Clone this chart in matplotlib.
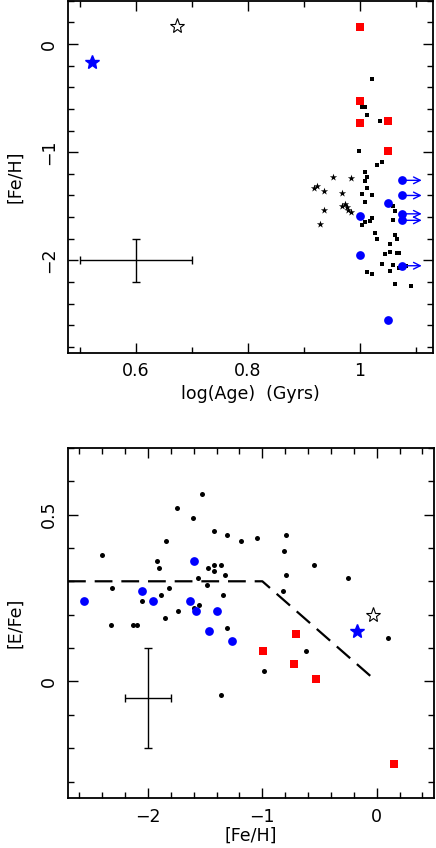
# Age / metallicity and [E/Fe] vs [Fe/H] panels
import matplotlib
matplotlib.use('Agg')
import matplotlib.pyplot as plt
import numpy as np
from matplotlib.ticker import MultipleLocator, FormatStrFormatter

# ---- top panel: log(Age) vs [Fe/H] ----
sq_age = [1.022, 1.003, 1.008, 1.0125, 0.998, 1.036, 0.998, 1.040, 1.031,
          1.008, 1.0125, 1.008, 1.0125, 1.003, 1.022, 1.008, 1.058, 1.062,
          1.058, 1.022, 1.017, 1.008, 1.003, 1.027, 1.031, 1.062, 1.066,
          1.053, 1.053, 1.044, 1.066, 1.070, 1.040, 1.058, 1.070, 1.082,
          1.053, 1.0125, 1.022, 1.062, 1.090]
sq_feh = [-0.32, -0.58, -0.58, -0.66, -0.72, -0.71, -0.99, -1.09, -1.12,
          -1.18, -1.23, -1.27, -1.33, -1.39, -1.40, -1.46, -1.50, -1.54,
          -1.63, -1.61, -1.64, -1.65, -1.67, -1.75, -1.80, -1.77, -1.80,
          -1.85, -1.92, -1.94, -1.93, -1.93, -2.03, -2.04, -2.07, -2.05,
          -2.10, -2.11, -2.13, -2.22, -2.24]

star_age = [0.951, 0.983, 0.917, 0.923, 0.935, 0.967, 0.967, 0.973, 0.976,
            0.979, 0.983, 0.935, 0.929]
star_feh = [-1.23, -1.24, -1.33, -1.31, -1.36, -1.38, -1.50, -1.48, -1.51,
            -1.53, -1.55, -1.53, -1.66]

red_age = [1.0, 1.0, 1.0, 1.05, 1.05]
red_feh = [0.157, -0.53, -0.73, -0.71, -0.985]

blue_age = [1.075, 1.075, 1.049, 1.0, 1.075, 1.075, 1.0, 1.075, 1.049]
blue_feh = [-1.26, -1.40, -1.47, -1.59, -1.57, -1.63, -1.95, -2.05, -2.55]
blue_lower = [True, True, False, False, True, True, False, True, False]

bstar_age, bstar_feh = 0.522, -0.17
ostar_age, ostar_feh = 0.673, 0.17

# ---- bottom panel: [Fe/H] vs [E/Fe] ----
dot_feh = [-2.407, -2.316, -2.325, -2.135, -2.094, -2.056, -1.925, -1.907,
           -1.883, -1.846, -1.854, -1.816, -1.746, -1.734, -1.605, -1.532,
           -1.565, -1.594, -1.553, -1.482, -1.474, -1.425, -1.425, -1.425,
           -1.363, -1.325, -1.342, -1.313, -1.184, -1.044, -1.313, -1.363,
           -0.982, -0.614, 0.096, -0.793, -0.813, -0.55, -0.793, -0.252,
           -0.822]
dot_efe = [0.38, 0.28, 0.17, 0.17, 0.17, 0.24, 0.36, 0.34, 0.26, 0.42, 0.19,
           0.28, 0.52, 0.21, 0.49, 0.56, 0.31, 0.22, 0.23, 0.29, 0.34, 0.45,
           0.35, 0.33, 0.35, 0.32, 0.26, 0.44, 0.42, 0.43, 0.16, -0.04, 0.03,
           0.09, 0.13, 0.44, 0.39, 0.35, 0.32, 0.31, 0.27]

red_feh2 = [0.155, -0.71, -0.99, -0.725, -0.53]
red_efe = [-0.248, 0.142, 0.09, 0.053, 0.006]

blue_feh2 = [-2.556, -2.056, -1.954, -1.594, -1.632, -1.579, -1.40, -1.468, -1.263]
blue_efe = [0.24, 0.27, 0.24, 0.36, 0.24, 0.21, 0.21, 0.15, 0.12]

bstar_feh2, bstar_efe = -0.17, 0.15
ostar_feh2, ostar_efe = -0.03, 0.20

trend_feh = [-2.7, -1.0, -0.04]
trend_efe = [0.30, 0.30, 0.012]

plt.rcParams['font.family'] = 'DejaVu Sans'
plt.rcParams['font.size'] = 12.5

fig = plt.figure(figsize=(4.36, 8.48), dpi=100)
ax1 = fig.add_axes([0.156, 0.584, 0.837, 0.415])
ax2 = fig.add_axes([0.156, 0.0586, 0.839, 0.4134])


def style_axes(ax):
    for sp in ax.spines.values():
        sp.set_linewidth(1.3)
    ax.tick_params(which='both', direction='in', top=True, right=True, width=1.0)
    ax.tick_params(which='major', length=7, pad=7)
    ax.tick_params(which='minor', length=4)


# top panel
ax1.scatter(sq_age, sq_feh, marker='s', s=3.4 ** 2, c='black', linewidths=0)
ax1.scatter(star_age, star_feh, marker='*', s=5.5 ** 2, c='black', linewidths=0)
ax1.scatter(red_age, red_feh, marker='s', s=6 ** 2, c='red', linewidths=0)
ax1.scatter(blue_age, blue_feh, marker='o', s=6.3 ** 2, c='blue', linewidths=0)
for a, f, lim in zip(blue_age, blue_feh, blue_lower):
    if lim:
        ax1.annotate('', xy=(a + 0.035, f), xytext=(a, f),
                     arrowprops=dict(arrowstyle='->', color='blue', lw=1.0,
                                     shrinkA=0, shrinkB=0, mutation_scale=12))
ax1.plot([bstar_age], [bstar_feh], marker='*', ms=10, color='blue', ls='none')
ax1.plot([ostar_age], [ostar_feh], marker='*', ms=11, mfc='white', mec='black',
         mew=0.8, ls='none')
ax1.errorbar([0.6], [-2.0], xerr=0.1, yerr=0.2, color='black', lw=1.0,
             capsize=3, capthick=1.0)

ax1.set_xlim(0.479, 1.13)
ax1.set_ylim(-2.855, 0.4)
ax1.xaxis.set_major_locator(MultipleLocator(0.2))
ax1.xaxis.set_minor_locator(MultipleLocator(0.1))
ax1.yaxis.set_major_locator(MultipleLocator(1))
ax1.yaxis.set_minor_locator(MultipleLocator(0.2))
ax1.xaxis.set_major_formatter(FormatStrFormatter('%g'))
ax1.set_xlabel('log(Age)  (Gyrs)')
ax1.set_ylabel('[Fe/H]')
ax1.xaxis.set_label_coords(0.5, -0.092)
ax1.yaxis.set_label_coords(-0.12, 0.5)
style_axes(ax1)
ax1.set_yticks([-2, -1, 0])
ax1.set_yticklabels(['\u22122', '\u22121', '0'], rotation=90, va='center')

# bottom panel
ax2.scatter(dot_feh, dot_efe, marker='o', s=3.6 ** 2, c='black', linewidths=0)
ax2.scatter(red_feh2, red_efe, marker='s', s=6 ** 2, c='red', linewidths=0)
ax2.scatter(blue_feh2, blue_efe, marker='o', s=6.3 ** 2, c='blue', linewidths=0)
ax2.plot([bstar_feh2], [bstar_efe], marker='*', ms=10, color='blue', ls='none')
ax2.plot([ostar_feh2], [ostar_efe], marker='*', ms=11, mfc='white', mec='black',
         mew=0.8, ls='none')
ax2.plot(trend_feh, trend_efe, color='black', lw=1.6, dashes=(8, 4))
ax2.errorbar([-2.0], [-0.05], xerr=0.2, yerr=0.15, color='black', lw=1.0,
             capsize=3, capthick=1.0)

ax2.set_xlim(-2.7, 0.5)
ax2.set_ylim(-0.35, 0.7)
ax2.xaxis.set_major_locator(MultipleLocator(1))
ax2.xaxis.set_minor_locator(MultipleLocator(0.2))
ax2.yaxis.set_major_locator(MultipleLocator(0.5))
ax2.yaxis.set_minor_locator(MultipleLocator(0.1))
ax2.set_xlabel('[Fe/H]')
ax2.set_ylabel('[E/Fe]')
ax2.xaxis.set_label_coords(0.5, -0.082)
ax2.yaxis.set_label_coords(-0.12, 0.5)
style_axes(ax2)
ax2.set_xticks([-2, -1, 0])
ax2.set_xticklabels(['\u22122', '\u22121', '0'])
ax2.set_yticks([0, 0.5])
ax2.set_yticklabels(['0', '0.5'], rotation=90, va='center')

plt.savefig('out.png', dpi=100)
